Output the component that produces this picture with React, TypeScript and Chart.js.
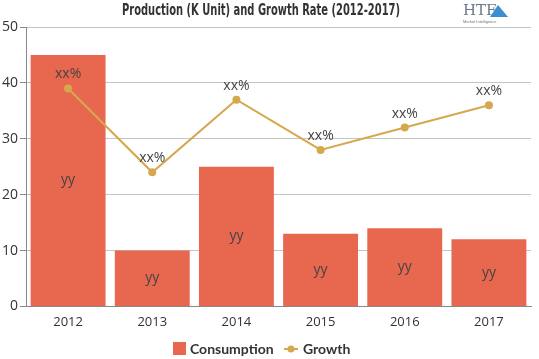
import React, { useEffect, useRef } from "react";
import { Chart, registerables } from "chart.js";

Chart.register(...registerables);

const categories = ["2012", "2013", "2014", "2015", "2016", "2017"];
const consumption = [45, 10, 25, 13, 14, 12];
const growth = [39, 24, 37, 28, 32, 36];
const barLabels = ["yy", "yy", "yy", "yy", "yy", "yy"];
const lineLabels = ["xx%", "xx%", "xx%", "xx%", "xx%", "xx%"];
const yTicks = [0, 10, 20, 30, 40, 50];
const seriesNames = ["Consumption", "Growth"];
const titleText = "Production (K Unit) and Growth Rate (2012-2017)";

const BAR_COLOR = "#E8674F";
const LINE_COLOR = "#D6A84E";

const labelPlugin = {
  id: "labelPlugin",
  afterDatasetsDraw(chart: any) {
    const ctx = chart.ctx;
    ctx.save();
    ctx.fillStyle = "#444";
    ctx.font = "14px 'Open Sans', sans-serif";
    ctx.textAlign = "center";
    ctx.textBaseline = "middle";
    const barMeta = chart.getDatasetMeta(0);
    barMeta.data.forEach((bar: any, i: number) => {
      const mid = (bar.y + bar.base) / 2;
      ctx.fillText(barLabels[i], bar.x, mid);
    });
    const lineMeta = chart.getDatasetMeta(1);
    lineMeta.data.forEach((pt: any, i: number) => {
      ctx.fillText(lineLabels[i], pt.x, pt.y - 14);
    });
    ctx.restore();
  },
  afterDraw(chart: any) {
    const ctx = chart.ctx;
    // title (condensed)
    ctx.save();
    ctx.fillStyle = "#333";
    ctx.font = "bold 16px 'DejaVu Sans', sans-serif";
    ctx.textBaseline = "middle";
    ctx.textAlign = "center";
    const w = ctx.measureText(titleText).width;
    const sx = 278 / w;
    ctx.translate(261, 11);
    ctx.scale(sx, 1);
    ctx.fillText(titleText, 0, 0);
    ctx.restore();

    // logo
    ctx.save();
    ctx.fillStyle = "#6a7a8a";
    ctx.font = "15px 'DejaVu Serif', serif";
    ctx.textAlign = "left";
    ctx.textBaseline = "middle";
    ctx.fillText("HTF", 463, 11);
    ctx.fillStyle = "#3a8fd0";
    ctx.beginPath();
    ctx.moveTo(498, 5);
    ctx.lineTo(508, 17);
    ctx.lineTo(490, 17);
    ctx.closePath();
    ctx.fill();
    ctx.fillStyle = "#777";
    ctx.font = "4px sans-serif";
    ctx.fillText("Market Intelligence", 463, 22);
    ctx.restore();

    // legend
    ctx.save();
    const ly = 349;
    ctx.fillStyle = BAR_COLOR;
    ctx.fillRect(173, ly - 7, 13, 13);
    ctx.fillStyle = "#333";
    ctx.font = "bold 14px 'Lato', sans-serif";
    ctx.textAlign = "left";
    ctx.textBaseline = "middle";
    ctx.fillText(seriesNames[0], 190, ly);
    ctx.strokeStyle = LINE_COLOR;
    ctx.lineWidth = 2;
    ctx.beginPath();
    ctx.moveTo(284, ly);
    ctx.lineTo(298, ly);
    ctx.stroke();
    ctx.fillStyle = LINE_COLOR;
    ctx.beginPath();
    ctx.arc(291, ly, 3.5, 0, Math.PI * 2);
    ctx.fill();
    ctx.fillStyle = "#333";
    ctx.fillText(seriesNames[1], 303, ly);
    ctx.restore();
  },
};

export default function App() {
  const ref = useRef<HTMLCanvasElement | null>(null);
  useEffect(() => {
    document.body.style.margin = "0";
    const chart = new Chart(ref.current!, {
      type: "bar",
      data: {
        labels: categories,
        datasets: [
          {
            type: "bar",
            label: seriesNames[0],
            data: consumption,
            backgroundColor: BAR_COLOR,
            barPercentage: 0.89,
            categoryPercentage: 1,
            order: 2,
          },
          {
            type: "line",
            label: seriesNames[1],
            data: growth,
            borderColor: LINE_COLOR,
            backgroundColor: LINE_COLOR,
            borderWidth: 2,
            pointRadius: 4,
            pointBackgroundColor: LINE_COLOR,
            pointBorderWidth: 0,
            tension: 0,
            order: 1,
          } as any,
        ],
      },
      options: {
        responsive: false,
        animation: false,
        layout: { padding: { top: 27, right: 8, left: 0, bottom: 29 } },
        plugins: {
          title: { display: false },
          tooltip: { enabled: false },
          legend: { display: false },
        },
        scales: {
          x: {
            grid: { display: false },
            border: { color: "#888" },
            ticks: { color: "#333", padding: 0, font: { family: "'Open Sans', sans-serif", size: 13 } },
          },
          y: {
            min: 0,
            max: 50,
            afterBuildTicks: (axis: any) => {
              axis.ticks = yTicks.map((v) => ({ value: v }));
            },
            grid: { color: "#c4c4c4", tickLength: 6, tickColor: "#888" },
            border: { color: "#888" },
            ticks: { color: "#333", padding: 2, font: { family: "'Open Sans', sans-serif", size: 14 } },
          },
        },
      },
      plugins: [labelPlugin],
    });
    return () => chart.destroy();
  }, []);
  return (
    <div style={{ width: 539, height: 359 }}>
      <canvas ref={ref} width={539} height={359} style={{ display: "block" }} />
    </div>
  );
}
